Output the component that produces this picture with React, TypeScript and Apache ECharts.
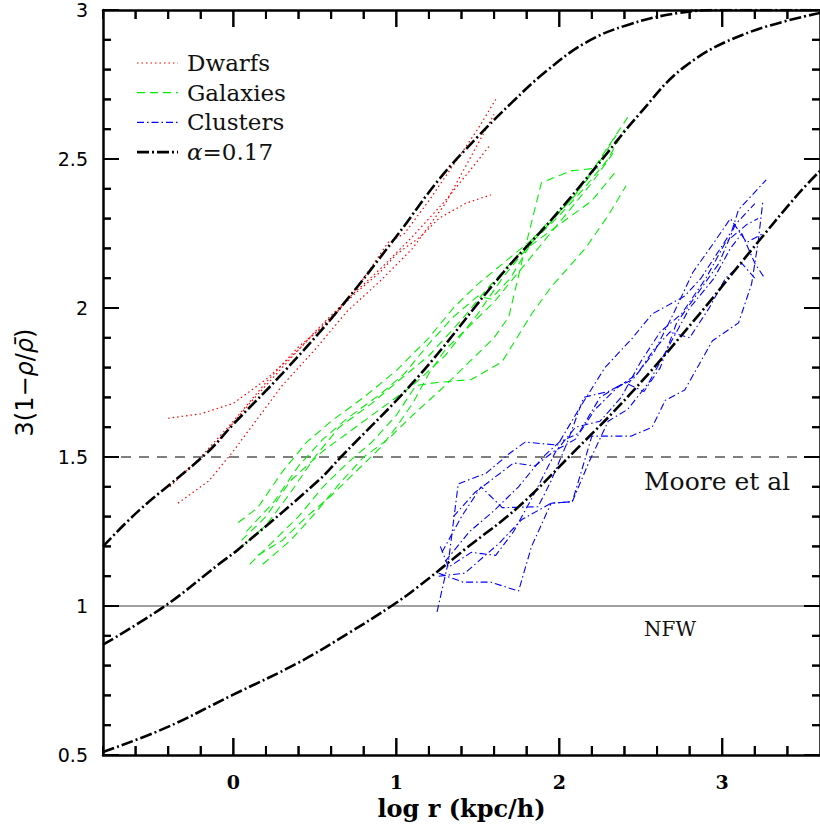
import React, { useEffect, useRef } from "react";
import * as echarts from "echarts";

// ---- axes ----
const X_MIN = -0.8;
const X_MAX = 3.6;
const Y_MIN = 0.5;
const Y_MAX = 3;
const X_MAJOR_TICKS = [0, 1, 2, 3];
const X_MINOR_TICKS = [
  -0.8, -0.6, -0.4, -0.2, 0.2, 0.4, 0.6, 0.8, 1.2, 1.4, 1.6, 1.8, 2.2, 2.4, 2.6, 2.8, 3.2, 3.4,
];
const Y_MAJOR_TICKS = [0.5, 1, 1.5, 2, 2.5, 3];
const Y_MINOR_TICKS = [
  0.6, 0.7, 0.8, 0.9, 1.1, 1.2, 1.3, 1.4, 1.6, 1.7, 1.8, 1.9, 2.1, 2.2, 2.3, 2.4, 2.6, 2.7, 2.8, 2.9,
];

// ---- reference levels ----
const MOORE_Y = 1.5;
const NFW_Y = 1;

// ---- alpha = 0.17 curves ----
const alphaDwarf: number[][] = [
  [-0.8, 1.2], [-0.58, 1.32], [-0.17, 1.51], [0.0, 1.61], [0.3, 1.78], [0.64, 1.99],
  [1.0, 2.24], [1.26, 2.43], [1.5, 2.575], [1.71, 2.69], [1.91, 2.79], [2.16, 2.89],
  [2.42, 2.95], [2.73, 2.99], [3.0, 3.0], [3.6, 3.0],
];
const alphaGalaxy: number[][] = [
  [-0.8, 0.87], [-0.42, 1.0], [-0.09, 1.14], [0.03, 1.19], [0.52, 1.42], [0.66, 1.5],
  [1.135, 1.77], [1.65, 2.115], [1.95, 2.295], [2.22, 2.47], [2.49, 2.65], [2.77, 2.81],
  [3.14, 2.92], [3.6, 2.99],
];
const alphaCluster: number[][] = [
  [-0.8, 0.51], [-0.42, 0.59], [-0.01, 0.7], [0.4, 0.81], [0.71, 0.91], [0.97, 1.0],
  [1.135, 1.065], [1.42, 1.19], [1.75, 1.333], [2.1, 1.523], [2.44, 1.714], [2.83, 1.96],
  [3.18, 2.195], [3.47, 2.385], [3.6, 2.46],
];

// ---- dwarfs ----
const dwarf1: number[][] = [
  [-0.4, 1.63], [-0.2, 1.645], [0.0, 1.68], [0.2, 1.76], [0.4, 1.86], [0.6, 1.97], [0.75, 2.05],
  [0.9, 2.12], [1.0, 2.18], [1.15, 2.24], [1.26, 2.3], [1.42, 2.35], [1.58, 2.38],
];
const dwarf2: number[][] = [
  [-0.39, 1.4], [-0.2, 1.5], [0.0, 1.62], [0.2, 1.75], [0.4, 1.87], [0.6, 1.96], [0.8, 2.1],
  [0.95, 2.22], [1.05, 2.25], [1.2, 2.36], [1.35, 2.48], [1.5, 2.6], [1.61, 2.7],
];
const dwarf3: number[][] = [
  [-0.34, 1.345], [-0.15, 1.42], [0.0, 1.52], [0.15, 1.63], [0.3, 1.74], [0.5, 1.86],
  [0.7, 1.99], [0.9, 2.09], [1.1, 2.2], [1.3, 2.35], [1.45, 2.5], [1.6, 2.65],
];
const dwarf4: number[][] = [
  [-0.1, 1.55], [0.1, 1.68], [0.3, 1.8], [0.5, 1.92], [0.7, 2.03], [0.9, 2.13], [1.1, 2.24],
  [1.3, 2.36], [1.45, 2.46], [1.58, 2.55],
];

// ---- galaxies ----
const galaxy1: number[][] = [
  [0.03, 1.28], [0.15, 1.33], [0.3, 1.45], [0.45, 1.55], [0.6, 1.62], [0.8, 1.7], [1.0, 1.79],
  [1.2, 1.9], [1.35, 2.0], [1.5, 2.08], [1.7, 2.17], [1.9, 2.26], [2.1, 2.38], [2.25, 2.5], [2.42, 2.64],
];
const galaxy2: number[][] = [
  [0.03, 1.19], [0.2, 1.27], [0.35, 1.38], [0.5, 1.5], [0.65, 1.6], [0.85, 1.68], [1.0, 1.75],
  [1.2, 1.84], [1.4, 1.96], [1.55, 2.06], [1.75, 2.18], [1.9, 2.27], [2.05, 2.35], [2.2, 2.45], [2.35, 2.58],
];
const galaxy3: number[][] = [
  [0.1, 1.14], [0.25, 1.22], [0.4, 1.3], [0.55, 1.4], [0.7, 1.48], [0.85, 1.55], [1.0, 1.64],
  [1.12, 1.74], [1.25, 1.75], [1.46, 1.76], [1.65, 1.82], [1.83, 1.98], [1.95, 2.07], [2.16, 2.2],
  [2.3, 2.31], [2.41, 2.41],
];
const galaxy4: number[][] = [
  [0.18, 1.14], [0.35, 1.22], [0.5, 1.31], [0.65, 1.41], [0.8, 1.5], [0.95, 1.56], [1.1, 1.64],
  [1.3, 1.74], [1.45, 1.82], [1.6, 1.9], [1.69, 1.97], [1.79, 2.2], [1.89, 2.42], [2.07, 2.46], [2.24, 2.47],
];
const galaxy5: number[][] = [
  [0.08, 1.25], [0.25, 1.35], [0.4, 1.47], [0.55, 1.56], [0.7, 1.63], [0.9, 1.71], [1.05, 1.78],
  [1.2, 1.88], [1.35, 1.97], [1.5, 2.04], [1.58, 2.03], [1.7, 2.1], [1.83, 2.22], [2.0, 2.31],
  [2.15, 2.4], [2.3, 2.5], [2.4, 2.6],
];
const galaxy6: number[][] = [
  [0.15, 1.17], [0.3, 1.22], [0.45, 1.3], [0.6, 1.37], [0.75, 1.45], [0.9, 1.53], [1.0, 1.6],
  [1.1, 1.68], [1.2, 1.78], [1.3, 1.86], [1.45, 1.94], [1.6, 2.02], [1.75, 2.12], [1.9, 2.22],
  [2.05, 2.32], [2.2, 2.42], [2.33, 2.52],
];
const galaxy7: number[][] = [
  [0.05, 1.22], [0.2, 1.3], [0.35, 1.42], [0.55, 1.52], [0.75, 1.6], [0.95, 1.68], [1.1, 1.74],
  [1.3, 1.84], [1.5, 1.98], [1.65, 2.1], [1.8, 2.2], [2.0, 2.28], [2.2, 2.36], [2.35, 2.46],
];

// ---- clusters ----
const cluster1: number[][] = [
  [1.25, 0.98], [1.32, 1.15], [1.38, 1.41], [1.55, 1.445], [1.69, 1.51], [1.79, 1.55], [1.99, 1.54],
  [2.12, 1.66], [2.28, 1.8], [2.45, 1.9], [2.57, 1.98], [2.77, 2.04], [2.87, 2.1], [3.06, 2.26],
  [3.1, 2.33], [3.27, 2.43],
];
const cluster2: number[][] = [
  [1.26, 1.11], [1.41, 1.08], [1.58, 1.08], [1.75, 1.05], [1.83, 1.2], [1.95, 1.345], [2.08, 1.35],
  [2.2, 1.57], [2.44, 1.57], [2.57, 1.6], [2.65, 1.69], [2.77, 1.725], [2.94, 1.89], [3.1, 1.95],
  [3.18, 2.08], [3.22, 2.22], [3.25, 2.36],
];
const cluster3: number[][] = [
  [1.27, 1.2], [1.32, 1.13], [1.46, 1.18], [1.61, 1.17], [1.72, 1.25], [1.85, 1.38], [1.98, 1.52],
  [2.1, 1.6], [2.25, 1.62], [2.38, 1.7], [2.5, 1.82], [2.62, 1.92], [2.75, 1.98], [2.9, 2.1],
  [3.02, 2.22], [3.15, 2.28], [3.22, 2.3],
];
const cluster4: number[][] = [
  [1.26, 1.1], [1.42, 1.11], [1.63, 1.21], [1.77, 1.29], [1.95, 1.345], [2.08, 1.35], [2.18, 1.48],
  [2.3, 1.62], [2.42, 1.66], [2.55, 1.75], [2.68, 1.88], [2.8, 2.0], [2.95, 2.1], [3.05, 2.2],
  [3.12, 2.25], [3.2, 2.15], [3.26, 2.1],
];
const cluster5: number[][] = [
  [1.28, 1.18], [1.4, 1.3], [1.52, 1.4], [1.65, 1.33], [1.87, 1.333], [1.95, 1.42], [2.05, 1.55],
  [2.15, 1.7], [2.3, 1.72], [2.45, 1.76], [2.58, 1.85], [2.7, 1.98], [2.82, 2.12], [2.95, 2.22],
  [3.05, 2.3], [3.15, 2.22], [3.25, 2.25],
];
const cluster6: number[][] = [
  [1.3, 1.15], [1.45, 1.25], [1.6, 1.32], [1.75, 1.4], [1.9, 1.5], [2.0, 1.55], [2.12, 1.58],
  [2.25, 1.7], [2.4, 1.75], [2.52, 1.72], [2.62, 1.8], [2.72, 1.95], [2.85, 2.05], [2.98, 2.15],
  [3.08, 2.28], [3.2, 2.35],
];
const cluster7: number[][] = [
  [1.35, 1.3], [1.48, 1.38], [1.6, 1.43], [1.72, 1.48], [1.85, 1.47], [1.97, 1.52], [2.1, 1.56],
  [2.22, 1.66], [2.35, 1.73], [2.48, 1.78], [2.58, 1.86], [2.68, 1.92], [2.8, 1.9], [2.92, 2.0],
  [3.02, 2.1], [3.12, 2.15], [3.2, 2.1],
];

const dwarfLines = [dwarf1, dwarf2, dwarf3, dwarf4];
const galaxyLines = [galaxy1, galaxy2, galaxy3, galaxy4, galaxy5, galaxy6, galaxy7];
const clusterLines = [cluster1, cluster2, cluster3, cluster4, cluster5, cluster6, cluster7];
const alphaCurves = [alphaDwarf, alphaGalaxy, alphaCluster];

const LEGEND_LABELS = ["Dwarfs", "Galaxies", "Clusters", "α=0.17"];

const RED = "#ff0000";
const GREEN = "#00f000";
const BLUE = "#0000ff";
const BLACK = "#000000";

const DOT = [1.5, 3];
const DASH = [8, 5];
const DASHDOT = [7, 3, 1.5, 3];
const BIG_DASHDOT = [12, 3, 2, 3];

const SERIF = "DejaVu Serif";
const SANS = "DejaVu Sans";

const X_MAJOR_LEN = 17;
const X_MINOR_LEN = 9;
const Y_MAJOR_LEN = 16;
const Y_MINOR_LEN = 8;

function lineSeries(data: number[][], color: string, width: number, dash: any, smooth: any = false, z = 2) {
  return {
    type: "line",
    data,
    showSymbol: false,
    symbol: "none",
    smooth,
    z,
    lineStyle: { color, width, type: dash },
  };
}

function tickSeries(data: number[][], dx: number, dy: number) {
  return {
    type: "custom",
    clip: false,
    z: 10,
    data,
    renderItem: (_p: any, api: any) => {
      const c = api.coord([api.value(0), api.value(1)]);
      return {
        type: "line",
        shape: { x1: c[0], y1: c[1], x2: c[0] + dx, y2: c[1] + dy },
        style: { stroke: "#000", lineWidth: 2 },
      };
    },
  };
}

export default function App() {
  const ref = useRef<HTMLDivElement>(null);

  useEffect(() => {
    if (!ref.current) return;
    const chart = echarts.init(ref.current, null, { renderer: "svg" });

    const series: any[] = [];
    series.push(lineSeries([[X_MIN, NFW_Y], [X_MAX, NFW_Y]], "#808080", 1.6, "solid", false, 1));
    series.push(lineSeries([[X_MIN, MOORE_Y], [X_MAX, MOORE_Y]], BLACK, 1.2, [10, 8], false, 1));
    dwarfLines.forEach((d) => series.push(lineSeries(d, RED, 1.2, DOT)));
    galaxyLines.forEach((d) => series.push(lineSeries(d, GREEN, 1.1, DASH)));
    clusterLines.forEach((d) => series.push(lineSeries(d, BLUE, 1.1, DASHDOT)));
    alphaCurves.forEach((d) => series.push(lineSeries(d, BLACK, 2.6, BIG_DASHDOT, 0.4, 5)));

    series.push(tickSeries(X_MAJOR_TICKS.map((v) => [v, Y_MIN]), 0, -X_MAJOR_LEN));
    series.push(tickSeries(X_MINOR_TICKS.map((v) => [v, Y_MIN]), 0, -X_MINOR_LEN));
    series.push(tickSeries(X_MAJOR_TICKS.map((v) => [v, Y_MAX]), 0, X_MAJOR_LEN));
    series.push(tickSeries(X_MINOR_TICKS.map((v) => [v, Y_MAX]), 0, X_MINOR_LEN));
    series.push(tickSeries(Y_MAJOR_TICKS.map((v) => [X_MIN, v]), Y_MAJOR_LEN, 0));
    series.push(tickSeries(Y_MINOR_TICKS.map((v) => [X_MIN, v]), Y_MINOR_LEN, 0));
    series.push(tickSeries(Y_MAJOR_TICKS.map((v) => [X_MAX, v]), -Y_MAJOR_LEN, 0));
    series.push(tickSeries(Y_MINOR_TICKS.map((v) => [X_MAX, v]), -Y_MINOR_LEN, 0));

    const legendStyles = [
      { color: RED, dash: DOT, width: 1.2 },
      { color: GREEN, dash: DASH, width: 1.2 },
      { color: BLUE, dash: DASHDOT, width: 1.2 },
      { color: BLACK, dash: BIG_DASHDOT, width: 2.6 },
    ];
    const graphics: any[] = [];
    LEGEND_LABELS.forEach((label, i) => {
      const y = 63 + i * 29.7;
      const s = legendStyles[i];
      graphics.push({
        type: "line",
        shape: { x1: 137, y1: y, x2: 178, y2: y },
        style: { stroke: s.color, lineWidth: s.width, lineDash: s.dash },
      });
      const style: any = {
        text: i === 3 ? "{i|α}=0.17" : label,
        font: `23px '${SERIF}'`,
        fill: "#111",
        verticalAlign: "middle",
        align: "left",
      };
      if (i === 3) style.rich = { i: { fontStyle: "italic", fontSize: 23, fontFamily: SERIF, fill: "#111" } };
      graphics.push({ type: "text", x: 187, y, style });
    });
    graphics.push({
      type: "text",
      x: 644,
      y: 481,
      style: { text: "Moore et al", font: `25px '${SERIF}'`, fill: "#111", verticalAlign: "middle", align: "left" },
    });
    graphics.push({
      type: "text",
      x: 644,
      y: 629,
      style: { text: "NFW", font: `20px '${SERIF}'`, fill: "#111", verticalAlign: "middle", align: "left" },
    });

    const option: any = {
      animation: false,
      grid: { left: 103, right: 0, top: 10, bottom: 76 },
      xAxis: [
        {
          type: "value",
          min: X_MIN,
          max: X_MAX,
          position: "bottom",
          splitLine: { show: false },
          axisLine: { show: true, onZero: false, lineStyle: { color: "#000", width: 2.5 } },
          axisTick: { show: false },
          axisLabel: {
            show: true,
            customValues: X_MAJOR_TICKS,
            color: "#000",
            fontFamily: SERIF,
            fontWeight: "bold",
            fontSize: 19,
            margin: 17,
          },
          name: "log r (kpc/h)",
          nameLocation: "middle",
          nameGap: 41,
          nameTextStyle: { color: "#000", fontFamily: SERIF, fontWeight: "bold", fontSize: 24 },
        },
        {
          type: "value",
          min: X_MIN,
          max: X_MAX,
          position: "top",
          splitLine: { show: false },
          axisLine: { show: true, onZero: false, lineStyle: { color: "#000", width: 2.5 } },
          axisTick: { show: false },
          axisLabel: { show: false },
        },
      ],
      yAxis: [
        {
          type: "value",
          min: Y_MIN,
          max: Y_MAX,
          interval: 0.5,
          position: "left",
          splitLine: { show: false },
          axisLine: { show: true, onZero: false, lineStyle: { color: "#000", width: 2.5 } },
          axisTick: { show: false },
          axisLabel: { color: "#000", fontFamily: SANS, fontSize: 19, lineHeight: 16, margin: 15 },
          name: "3(1−{i|ρ}/{i|ρ̄})",
          nameLocation: "middle",
          nameRotate: 90,
          nameGap: 66,
          nameTextStyle: {
            color: "#000",
            fontFamily: SANS,
            fontSize: 24,
            rich: { i: { fontStyle: "italic", fontFamily: SANS, fontSize: 24, color: "#000" } },
          },
        },
        {
          type: "value",
          min: Y_MIN,
          max: Y_MAX,
          interval: 0.5,
          position: "right",
          splitLine: { show: false },
          axisLine: { show: true, onZero: false, lineStyle: { color: "#000", width: 2.5 } },
          axisTick: { show: false },
          axisLabel: { show: false },
        },
      ],
      series,
      graphic: graphics,
    };

    chart.setOption(option);

    // Frame ticks as graphic lines, positioned with the chart's own scale (convertToPixel)
    try {
      const finder = { xAxisIndex: 0, yAxisIndex: 0 };
      const tickGraphics: any[] = [];
      const addTick = (x: number, y: number, dx: number, dy: number) => {
        const p: any = chart.convertToPixel(finder as any, [x, y]);
        if (!p || !isFinite(p[0]) || !isFinite(p[1])) return;
        tickGraphics.push({
          type: "line",
          z: 100,
          shape: { x1: p[0], y1: p[1], x2: p[0] + dx, y2: p[1] + dy },
          style: { stroke: "#000", lineWidth: 2 },
        });
      };
      X_MAJOR_TICKS.forEach((v) => {
        addTick(v, Y_MIN, 0, -X_MAJOR_LEN);
        addTick(v, Y_MAX, 0, X_MAJOR_LEN);
      });
      X_MINOR_TICKS.forEach((v) => {
        addTick(v, Y_MIN, 0, -X_MINOR_LEN);
        addTick(v, Y_MAX, 0, X_MINOR_LEN);
      });
      Y_MAJOR_TICKS.forEach((v) => {
        addTick(X_MIN, v, Y_MAJOR_LEN, 0);
        addTick(X_MAX, v, -Y_MAJOR_LEN, 0);
      });
      Y_MINOR_TICKS.forEach((v) => {
        addTick(X_MIN, v, Y_MINOR_LEN, 0);
        addTick(X_MAX, v, -Y_MINOR_LEN, 0);
      });
      if (tickGraphics.length) {
        chart.setOption({ graphic: [...graphics, ...tickGraphics] });
      }
    } catch (e) {
      // keep the chart as drawn
    }

    return () => chart.dispose();
  }, []);

  return (
    <div
      ref={ref}
      style={{ position: "fixed", left: 0, top: 0, width: 820, height: 831, background: "#fff" }}
    />
  );
}
